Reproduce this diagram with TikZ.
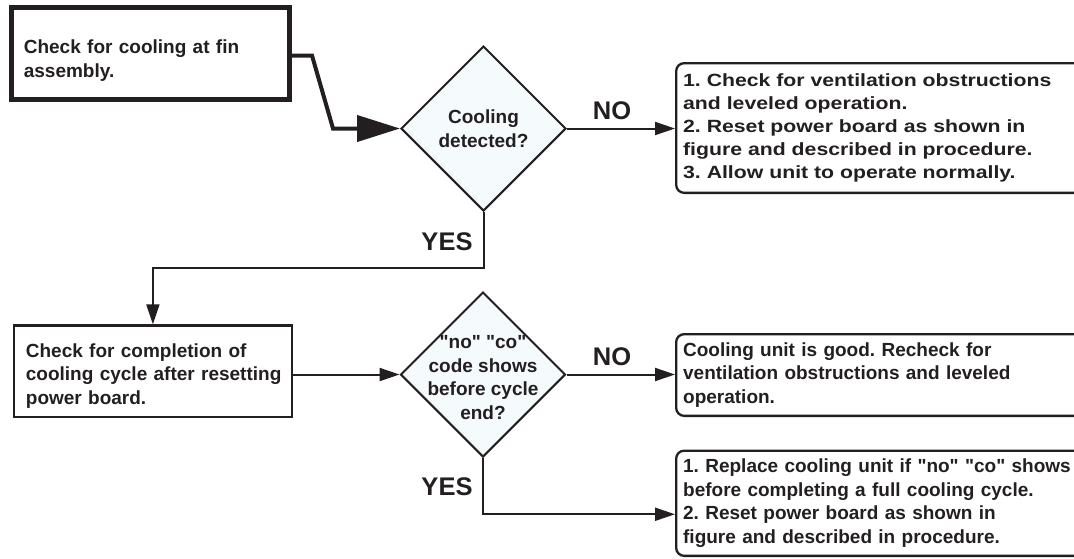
\documentclass[tikz,border=0pt]{standalone}
\usepackage{fontspec}
\setmainfont{Liberation Sans}
\newfontfamily\widefont[FakeStretch=1.2]{Liberation Sans}
\usetikzlibrary{positioning,arrows.meta,shapes.geometric,calc}
\definecolor{ink}{HTML}{231F20}
\definecolor{qfill}{HTML}{F5FAFC}
\newcommand{\qmark}{\XeTeXglyph\XeTeXcharglyph"22\relax}
\frenchspacing

\begin{document}
\begin{tikzpicture}[x=1pt,y=-1pt,
  every node/.style={font=\fontsize{19}{23.5}\selectfont\bfseries,text=ink},
  box/.style={draw=ink,line width=2.3pt,align=left,inner ysep=0pt,anchor=north west},
  act/.style={box,rounded corners=8pt,minimum width=420pt,text width=406pt,inner xsep=7pt},
  decision/.style={diamond,draw=ink,fill=qfill,line width=2pt,minimum width=165pt,minimum height=165pt,inner sep=0pt},
  qtext/.style={align=center,inner sep=0pt},
  lbl/.style={font=\fontsize{25.5}{28}\selectfont\bfseries,inner sep=0pt},
  conn/.style={draw=ink,line width=2pt},
  >={Triangle[length=20pt,width=13pt]}]
  \clip (0,0) rectangle (1074,558);
  % first check
  \node[box,line width=4.7pt,minimum width=278.3pt,minimum height=92.3pt,text width=253.3pt,inner xsep=12.5pt,
    text height=14pt,text depth=14pt] (fin) at (9,5) {Check for cooling at fin\\ assembly.};
  \node[decision] (q1) at (483.5,128.5) {};
  \node[qtext] (q1t) at (q1) {Cooling\\ detected?};
  \node[act,minimum height=129.7pt,font=\widefont\fontsize{17.7}{23}\selectfont\bfseries] (vent) at (675,62)
    {1. Check for ventilation obstructions\\ and leveled operation.\\ 2. Reset power board as shown in\\ figure and described in procedure.\\ 3. Allow unit to operate normally.};
  % second check
  \node[box,minimum width=278.5pt,minimum height=91.7pt,text width=254pt,inner xsep=12.25pt,
    text height=14pt,text depth=42pt] (cyc) at (12.5,324.3)
    {Check for completion of\\ \mbox{cooling cycle after resetting}\\ power board.};
  \node[decision] (q2) at (483,374.5) {};
  \node[qtext] (q2t) at ([yshift=-3pt]q2.center) {\qmark no\qmark{} \qmark co\qmark\\ code shows\\ before cycle\\ end?};
  \node[act,minimum height=81.7pt] (good) at (675,333)
    {Cooling unit is good. Recheck for\\ ventilation obstructions and leveled\\ operation.};
  \node[act,minimum height=105.2pt] (repl) at (675,449.5)
    {1. Replace cooling unit if \qmark no\qmark{} \qmark co\qmark{} shows\\ before completing a full cooling cycle.\\ 2. Reset power board as shown in\\ figure and described in procedure.};
  % answers
  \node[lbl] (no1) at (612,111) {NO};
  \node[lbl] (yes1) at (447,242) {YES};
  \node[lbl] (no2) at (612,357) {NO};
  \node[lbl] (yes2) at (447,487) {YES};
  % connectors
  \draw[ink,line width=4pt,-{Triangle[length=43pt,width=26pt]}] ([yshift=-2pt]fin.east) -- ++(20,0)
    -- ([xshift=-67pt]q1.west) -- (q1.west);
  \draw[conn,->] (q1.east) -- (q1.east -| vent.west);
  \draw[conn,->] (q1.south) -- ++(0,56) -| (cyc.north);
  \draw[conn,->] (cyc.east |- q2.west) -- (q2.west);
  \draw[conn,->] (q2.east) -- (q2.east -| good.west);
  \draw[conn,->] (q2.south) |- ([yshift=-11pt]repl.west);
\end{tikzpicture}
\end{document}
